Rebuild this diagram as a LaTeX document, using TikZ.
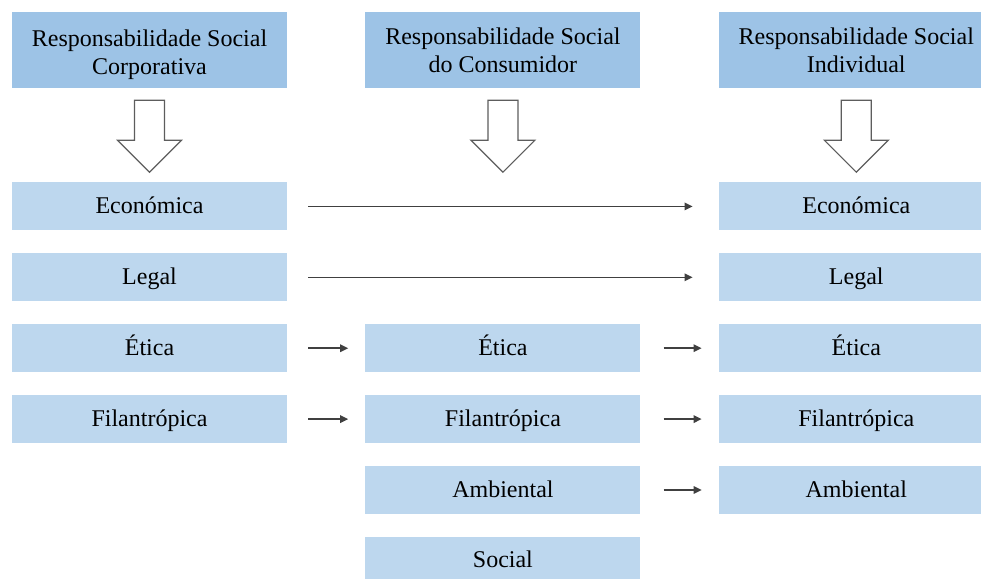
\documentclass[tikz,border=0pt]{standalone}
\usepackage{fontspec}
\setmainfont{Liberation Serif}
\usetikzlibrary{positioning, arrows.meta, calc}
\definecolor{cabeca}{HTML}{9DC3E6}
\definecolor{caixa}{HTML}{BDD7EE}
\definecolor{seta}{HTML}{404040}
\newcommand{\setaoca}[1]{\draw[oco] ($(#1.south)+(-15,-12)$) -- ++(30,0) -- ++(0,-40)
  -- ++(17,0) -- ++(-32,-32) -- ++(-32,32) -- ++(17,0) -- cycle;}

\begin{document}
\begin{tikzpicture}[x=1pt, y=1pt,
      titulo/.style={fill=cabeca, align=center, inner sep=0pt,
        font=\fontsize{24}{28}\selectfont, minimum width=275pt, minimum height=76pt},
      dimensao/.style={fill=caixa, inner sep=0pt, text height=18pt, text depth=4pt,
        font=\fontsize{24}{28}\selectfont, minimum width=275pt, minimum height=48pt},
      pfeil/.style={-{Triangle[length=8pt, width=7.5pt]}, seta, line width=1.5pt},
      oco/.style={draw=seta!85, line width=1.2pt, fill=white}]
    \useasboundingbox (0,0) rectangle (981,-578);
    \clip (0,0) rectangle (981,-578);
    \node[titulo] at (149.5,-50) (rsc) {\rule{0pt}{27pt}Responsabilidade Social\\Corporativa};
    \node[titulo, right=78pt of rsc] (rscons) {Responsabilidade Social\\do Consumidor};
    \node[titulo, right=78pt of rscons] (rsi) {Responsabilidade Social\\Individual};
    % coluna corporativa
    \node[dimensao, below=94pt of rsc] (eco1) {Económica};
    \node[dimensao, below=22.5pt of eco1] (leg1) {Legal};
    \node[dimensao, below=22.5pt of leg1] (eti1) {Ética};
    \node[dimensao, below=22.5pt of eti1] (fil1) {Filantrópica};
    % coluna consumidor
    \node[dimensao, right=78pt of eti1] (eti2) {Ética};
    \node[dimensao, below=22.5pt of eti2] (fil2) {Filantrópica};
    \node[dimensao, below=22.5pt of fil2] (amb2) {Ambiental};
    \node[dimensao, below=22.5pt of amb2] (soc2) {Social};
    % coluna individual
    \node[dimensao, below=94pt of rsi] (eco3) {Económica};
    \node[dimensao, below=22.5pt of eco3] (leg3) {Legal};
    \node[dimensao, below=22.5pt of leg3] (eti3) {Ética};
    \node[dimensao, below=22.5pt of eti3] (fil3) {Filantrópica};
    \node[dimensao, below=22.5pt of fil3] (amb3) {Ambiental};
    \setaoca{rsc}
    \setaoca{rscons}
    \setaoca{rsi}
    \draw[pfeil, shorten <=21pt, shorten >=26pt] (eco1) -- (eco3);
    \draw[pfeil, shorten <=21pt, shorten >=26pt] (leg1) -- (leg3);
    \draw[pfeil, shorten <=21pt, shorten >=17pt] (eti1) -- (eti2);
    \draw[pfeil, shorten <=21pt, shorten >=17pt] (fil1) -- (fil2);
    \draw[pfeil, shorten <=23pt, shorten >=17pt] (eti2) -- (eti3);
    \draw[pfeil, shorten <=23pt, shorten >=17pt] (fil2) -- (fil3);
    \draw[pfeil, shorten <=23pt, shorten >=17pt] (amb2) -- (amb3);
  \end{tikzpicture}
\end{document}
